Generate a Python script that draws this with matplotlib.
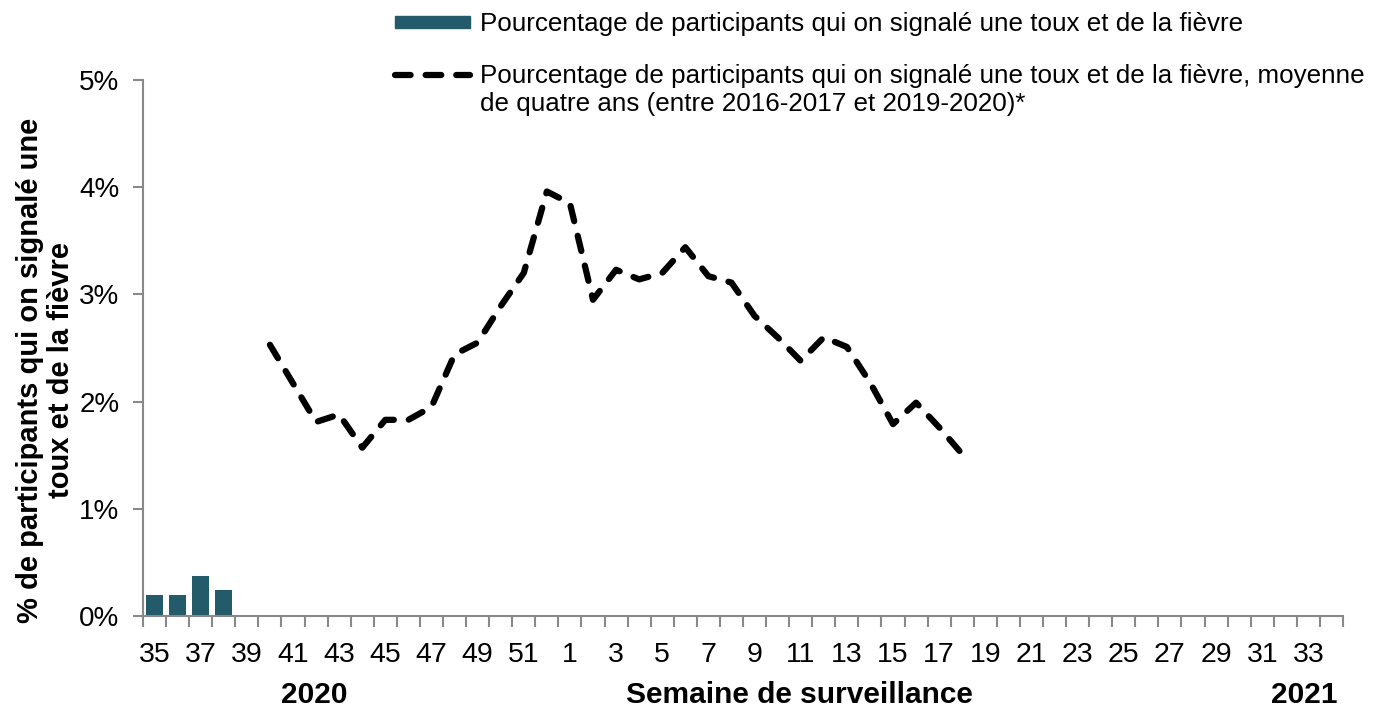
import numpy as np
import matplotlib.pyplot as plt
from matplotlib.lines import Line2D
from matplotlib.patches import Patch

plt.rcParams['font.family'] = ['Liberation Sans', 'DejaVu Sans']

# semaines de surveillance 2020-2021
weeks = list(range(35, 53)) + list(range(1, 35))

# % de participants, toux et fievre (saison courante)
bar_weeks = [35, 36, 37, 38]
bar_pct = [0.20, 0.20, 0.37, 0.24]

# moyenne de quatre ans (2016-2017 a 2019-2020)
avg_weeks = list(range(40, 53)) + list(range(1, 19))
avg_pct = [2.53, 2.17, 1.81, 1.88, 1.57, 1.83, 1.83, 1.95, 2.44, 2.55, 2.89, 3.20, 3.96,
           3.85, 2.95, 3.23, 3.14, 3.20, 3.44, 3.17, 3.11, 2.80, 2.60, 2.38, 2.60, 2.51,
           2.18, 1.79, 1.99, 1.76, 1.51]

bar_lbl = "Pourcentage de participants qui on signalé une toux et de la fièvre"
avg_lbl = "Pourcentage de participants qui on signalé une toux et de la fièvre, moyenne"
avg_lbl2 = "de quatre ans (entre 2016-2017 et 2019-2020)*"

bar_color = '#235b6a'
axis_color = '#898989'
dash = (0, (2.5, 2.4))
leg_fs = 18.7

fig = plt.figure(figsize=(13.8, 7.09), dpi=100)
ax = fig.add_axes([143/1380, 1 - 616/709, 1200/1380, 536/709])

xb = [weeks.index(w) for w in bar_weeks]
xa = [weeks.index(w) for w in avg_weeks]
ax.bar(xb, bar_pct, width=0.72, color=bar_color, zorder=2)
ax.plot(xa, avg_pct, color='black', lw=4.5, ls=dash,
        dash_capstyle='round', solid_joinstyle='round', zorder=3)

ax.set_xlim(-0.5, len(weeks) - 0.5)
ax.set_ylim(0, 5)
ax.set_yticks(range(0, 6))
ax.set_yticklabels(['{}%'.format(v) for v in range(0, 6)])

# ticks aux limites des categories, etiquettes une semaine sur deux
ax.set_xticks(np.arange(-0.5, len(weeks)))
ax.set_xticklabels([])
ax.set_xticks(np.arange(0, len(weeks), 2), minor=True)
ax.set_xticklabels([str(w) for w in weeks[::2]], minor=True)
ax.tick_params(axis='x', which='major', length=8, width=1.5, color=axis_color)
ax.tick_params(axis='x', which='minor', length=0, pad=19, labelsize=20.5)
ax.tick_params(axis='y', length=7, width=1.5, color=axis_color, labelsize=20, pad=10)

for s in ['top', 'right']:
    ax.spines[s].set_visible(False)
for s in ['left', 'bottom']:
    ax.spines[s].set_color(axis_color)
    ax.spines[s].set_linewidth(1.5)

ax.set_ylabel("% de participants qui on signalé une\ntoux et de la fièvre",
              fontsize=21, fontweight='bold', y=0.459, labelpad=3, linespacing=1.15)
ax.text(0.547, -0.147, "Semaine de surveillance", transform=ax.transAxes,
        ha='center', va='center', fontsize=21.5, fontweight='bold')
ax.text(0.143, -0.147, "2020", transform=ax.transAxes,
        ha='center', va='center', fontsize=21.5, fontweight='bold')
ax.text(0.968, -0.147, "2021", transform=ax.transAxes,
        ha='center', va='center', fontsize=21.5, fontweight='bold')

# legende : texte a x=480 px, poignee de 75 px
fs_px = leg_fs * 100 / 72
handles = [Patch(color=bar_color),
           Line2D([], [], color='black', lw=4.5, ls=dash, dash_capstyle='round')]
fig.legend(handles, [bar_lbl, avg_lbl], loc='upper left',
           bbox_to_anchor=(395/1380, 1 - 12/709), frameon=False, fontsize=leg_fs,
           borderpad=0, borderaxespad=0, handlelength=75/fs_px, handleheight=0.33,
           handletextpad=10/fs_px, labelspacing=1.07)
fig.text(480/1380, 1 - 104/709, avg_lbl2, fontsize=leg_fs, ha='left', va='center')

fig.savefig('out.png', dpi=100)
